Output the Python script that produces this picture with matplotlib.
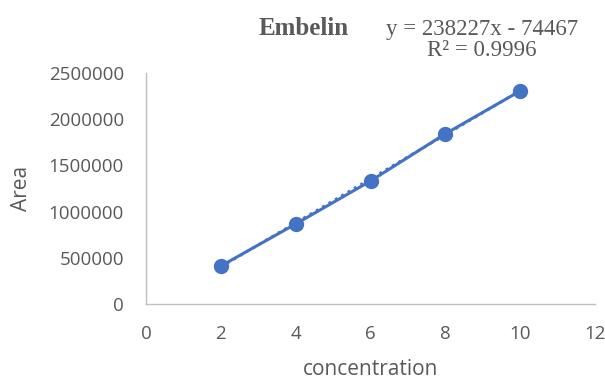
import numpy as np
import matplotlib
matplotlib.use('Agg')
import matplotlib.pyplot as plt
from matplotlib.ticker import FuncFormatter

conc = [2, 4, 6, 8, 10]
area = [411000, 866000, 1331000, 1842000, 2306000]
slope = 238227
intercept = -74467
title = 'Embelin'
eq_text = 'y = 238227x - 74467\nR² = 0.9996'

BLUE = '#4472C4'
GREY = '#595959'

plt.rcParams['font.family'] = ['Open Sans', 'DejaVu Sans']

fig = plt.figure(figsize=(6.05, 3.81), dpi=100)
ax = fig.add_axes([0.2413, 0.2021, 0.7422, 0.6063])

# trendline (dotted) under the data line
xt = np.array([conc[0], conc[-1]])
ax.plot(xt, slope * xt + intercept, ':', color=BLUE, lw=2)
ax.plot(conc, area, '-o', color=BLUE, lw=2.2, markersize=10)

ax.set_xlim(0, 12)
ax.set_ylim(0, 2500000)
ax.set_xticks(range(0, 13, 2))
ax.set_yticks(range(0, 2500001, 500000))
ax.yaxis.set_major_formatter(FuncFormatter(lambda v, p: f'{int(v)}'))
ax.tick_params(length=0, labelsize=13.5, colors=GREY)
ax.tick_params(axis='y', pad=16)
ax.tick_params(axis='x', pad=15)
for s in ['top', 'right']:
    ax.spines[s].set_visible(False)
for s in ['left', 'bottom']:
    ax.spines[s].set_color('#BFBFBF')
    ax.spines[s].set_linewidth(1)

ax.set_xlabel('concentration', fontsize=15, color=GREY, labelpad=12)
ax.set_ylabel('Area', fontsize=15, color=GREY, labelpad=12)

fig.text(0.502, 0.925, title, ha='center', va='center', fontsize=18,
         fontweight='bold', color=GREY, family='Liberation Serif')
fig.text(0.797, 0.895, eq_text, ha='center', va='center', fontsize=16.5,
         color=GREY, family='Liberation Serif', linespacing=1.05)

fig.savefig('out.png', dpi=100)
